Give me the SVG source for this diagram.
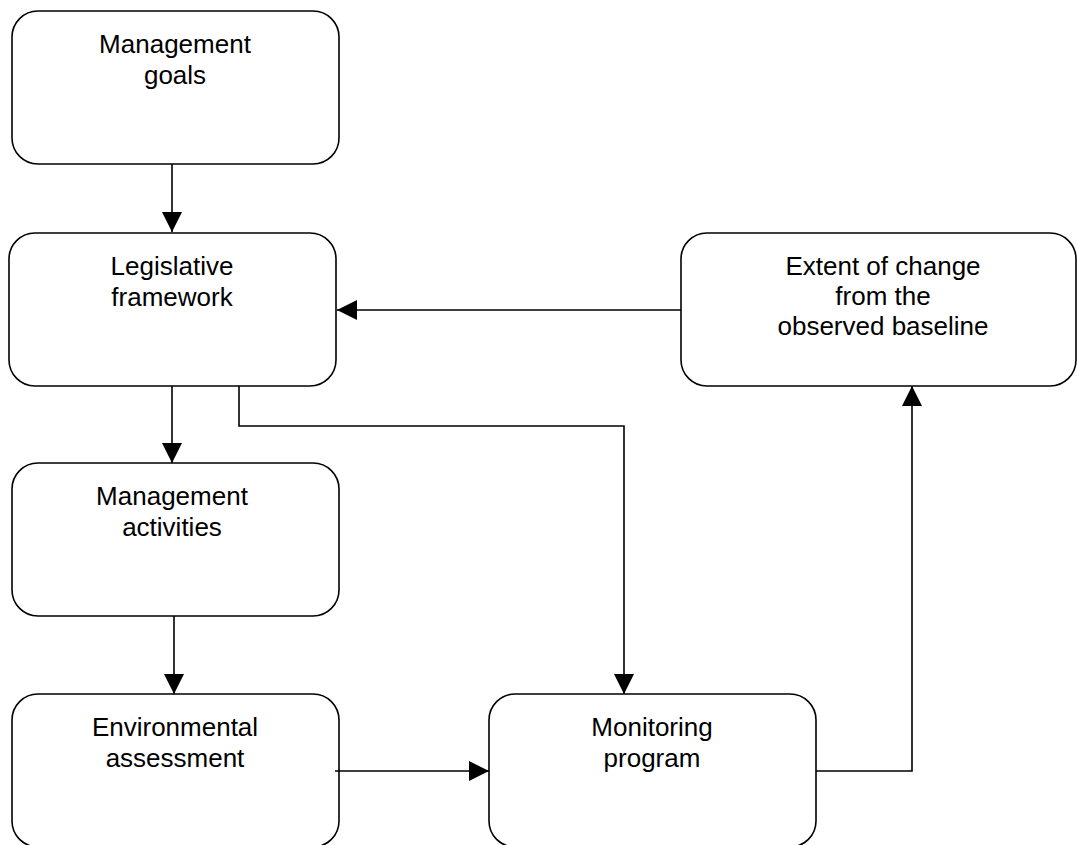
<svg xmlns="http://www.w3.org/2000/svg" width="1077" height="845" viewBox="0 0 1077 845">
  <style>
    .box { fill: #ffffff; stroke: #000000; stroke-width: 1.6; }
    .lbl { font-family: "Liberation Sans", Arial, sans-serif; font-size: 26px; fill: #000000; text-anchor: middle; }
    .wire { fill: none; stroke: #000000; stroke-width: 1.6; }
  </style>
  <defs>
    <marker id="arrow" viewBox="0 0 20 20" refX="20" refY="10" markerWidth="20" markerHeight="20" markerUnits="userSpaceOnUse" orient="auto">
      <path d="M0,0 L20,10 L0,20 Z" fill="#000000"/>
    </marker>
  </defs>
  <rect width="1077" height="845" fill="#ffffff"/>

  <g id="goals">
    <rect class="box" x="12" y="11" width="327" height="153" rx="26" ry="26"/>
    <text class="lbl" x="175" y="53">Management</text>
    <text class="lbl" x="175" y="84">goals</text>
  </g>

  <g id="legislative">
    <rect class="box" x="9" y="233" width="327" height="153" rx="26" ry="26"/>
    <text class="lbl" x="172" y="275">Legislative</text>
    <text class="lbl" x="172" y="306">framework</text>
  </g>

  <g id="extent">
    <rect class="box" x="681" y="233" width="395" height="153" rx="26" ry="26"/>
    <text class="lbl" x="883" y="275">Extent of change</text>
    <text class="lbl" x="883" y="305">from the</text>
    <text class="lbl" x="883" y="335">observed baseline</text>
  </g>

  <g id="activities">
    <rect class="box" x="12" y="463" width="327" height="153" rx="26" ry="26"/>
    <text class="lbl" x="172" y="505">Management</text>
    <text class="lbl" x="172" y="536">activities</text>
  </g>

  <g id="assessment">
    <rect class="box" x="12" y="694" width="327" height="153" rx="26" ry="26"/>
    <text class="lbl" x="175" y="736">Environmental</text>
    <text class="lbl" x="175" y="767">assessment</text>
  </g>

  <g id="monitoring">
    <rect class="box" x="489" y="694" width="327" height="153" rx="26" ry="26"/>
    <text class="lbl" x="652" y="736">Monitoring</text>
    <text class="lbl" x="652" y="767">program</text>
  </g>

  <g id="connectors">
    <line class="wire" x1="172" y1="164" x2="172" y2="232" marker-end="url(#arrow)"/>
    <line class="wire" x1="681" y1="310" x2="337" y2="310" marker-end="url(#arrow)"/>
    <line class="wire" x1="172" y1="386" x2="172" y2="463" marker-end="url(#arrow)"/>
    <polyline class="wire" points="239,386 239,426 624,426 624,694" marker-end="url(#arrow)"/>
    <line class="wire" x1="174" y1="616" x2="174" y2="694" marker-end="url(#arrow)"/>
    <line class="wire" x1="335" y1="771" x2="489" y2="771" marker-end="url(#arrow)"/>
    <polyline class="wire" points="816,771 912,771 912,386" marker-end="url(#arrow)"/>
  </g>
</svg>
